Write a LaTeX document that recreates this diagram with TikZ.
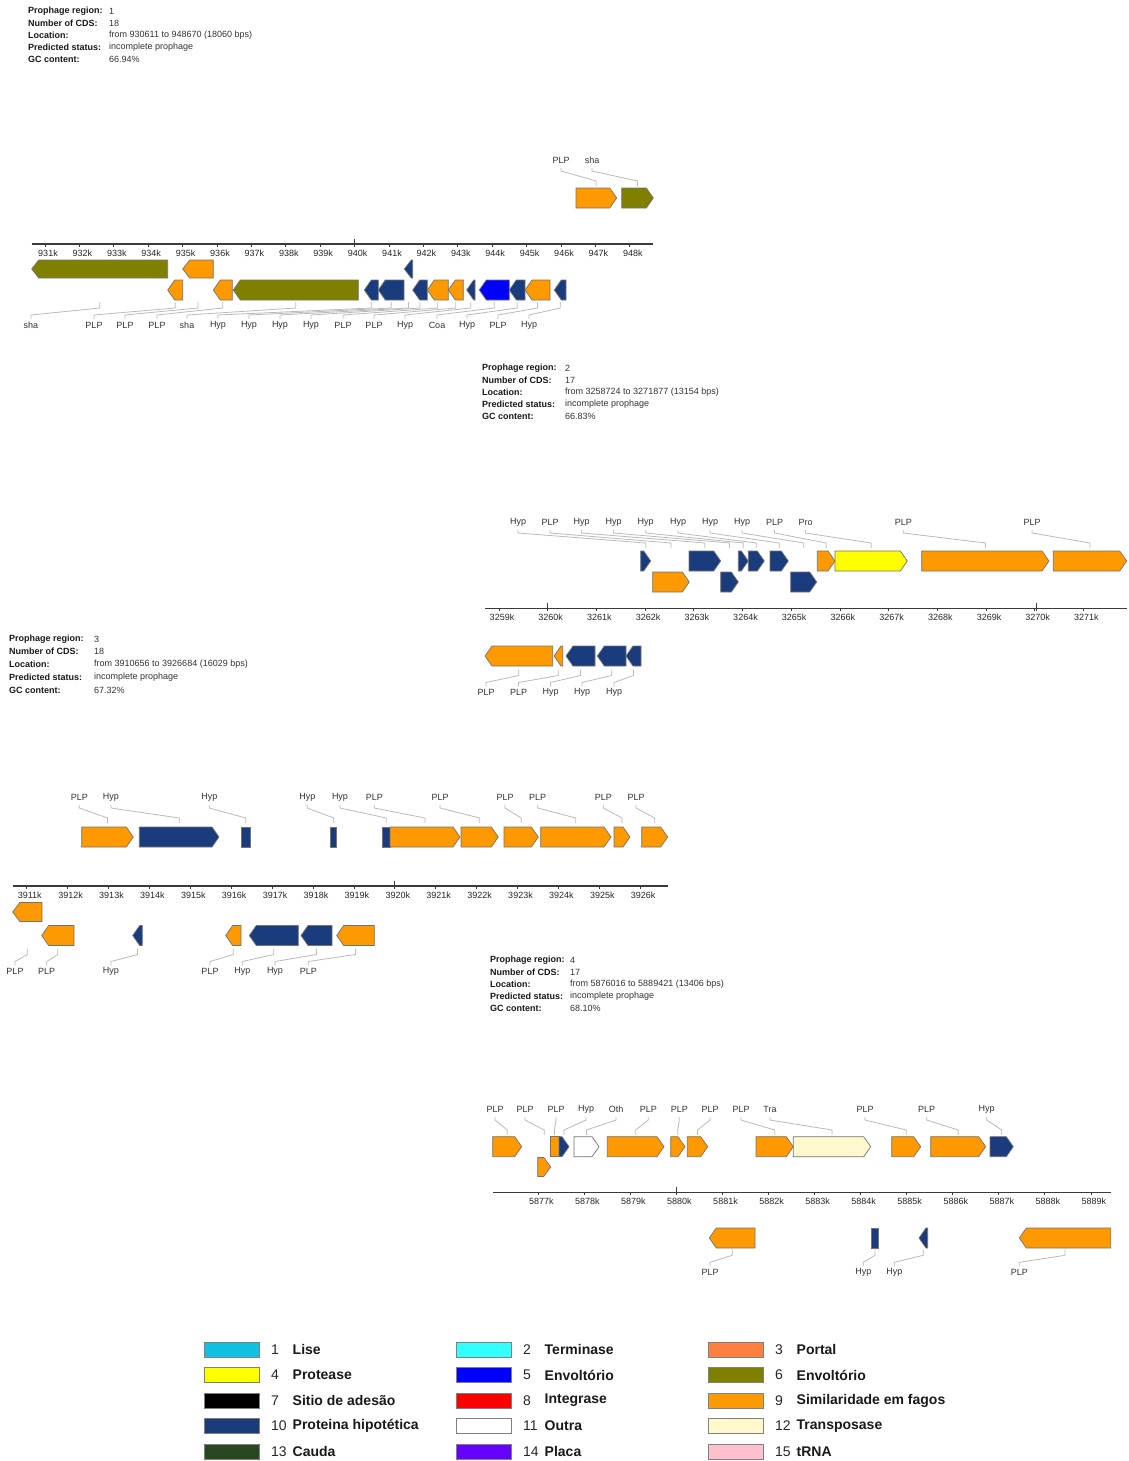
\documentclass[tikz,border=0pt]{standalone}
\usepackage{fontspec}
\setmainfont{Liberation Sans}
\usetikzlibrary{calc}
\definecolor{gor}{HTML}{FF9900}
\definecolor{gol}{HTML}{808000}
\definecolor{gdb}{HTML}{1A3C7C}
\definecolor{gbb}{HTML}{0000FF}
\definecolor{gye}{HTML}{FFFF00}
\definecolor{gly}{HTML}{FFF8CC}
\definecolor{lise}{HTML}{10C0E0}
\definecolor{term}{HTML}{33FFFF}
\definecolor{port}{HTML}{FF7F40}
\definecolor{integ}{HTML}{FF0000}
\definecolor{cauda}{HTML}{284820}
\definecolor{placa}{HTML}{6600FF}
\definecolor{trna}{HTML}{FFC0CB}
\definecolor{axc}{HTML}{3A3A3A}
\newcounter{lc}
\newcounter{gc}
\newcommand{\labfont}{\fontsize{9}{10.5}\selectfont}
\newcommand{\hdfont}{\fontsize{9}{10.5}\selectfont}
\newcommand{\legfont}{\fontsize{14}{16}\selectfont}
% forward gene: x1 x2 yc half colour
\newcommand{\gf}[5]{%
  \pgfmathsetmacro{\gtipl}{min(7,#2-#1)}%
  \pgfmathsetmacro{\gbasex}{#2-\gtipl}%
  \draw[gene,fill=#5] (#1,#3-#4) -- (\gbasex,#3-#4) -- (#2,#3) -- (\gbasex,#3+#4) -- (#1,#3+#4) -- cycle;}
% reverse gene
\newcommand{\gr}[5]{%
  \pgfmathsetmacro{\gtipl}{min(7,#2-#1)}%
  \pgfmathsetmacro{\gbasex}{#1+\gtipl}%
  \draw[gene,fill=#5] (#2,#3-#4) -- (\gbasex,#3-#4) -- (#1,#3) -- (\gbasex,#3+#4) -- (#2,#3+#4) -- cycle;}
% rectangle gene
\newcommand{\gq}[5]{%
  \draw[gene,fill=#5] (#1,#3-#4) rectangle (#2,#3+#4);}
% label above: lx L gx text
\newcommand{\uplab}[4]{%
  \stepcounter{lc}%
  \node[lab] (l\arabic{lc}) at (#1,#2) {#4};
  \coordinate (g\arabic{lc}) at (#3,#2+21);
  \draw[leader] (l\arabic{lc}.center) ++(0,8) -- ++(0,3) -- (g\arabic{lc}) -- ++(0,5);}
% label below
\newcommand{\lolab}[4]{%
  \stepcounter{lc}%
  \node[lab] (l\arabic{lc}) at (#1,#2) {#4};
  \coordinate (g\arabic{lc}) at (#3,#2-23);
  \draw[leader] (g\arabic{lc}) -- ++(0,6) -- ($(l\arabic{lc}.center)+(0,-10)$) -- ++(0,4);}
% axis: x1 x2 y firstk lastk xfirst step
\newcommand{\axisrow}[7]{%
  \draw[axisline] (#1,#3) -- (#2,#3);
  \foreach \k in {#4,...,#5}{%
    \pgfmathsetmacro{\tkx}{#6+#7*(\k-#4)}%
    \draw[tickline] (\tkx,#3) -- (\tkx,#3+3);
    \node[ticklab] (t\k) at (\tkx+3,#3+9) {\k k};
  }}
% header line: name xkey xval y key value
\newcommand{\hdr}[6]{%
  \node[hkey] (#1k) at (#2,#4) {#5};
  \node[hval] (#1v) at (#3,#4) {#6};}
% legend entry: xbox ycenter colour number text
\newcommand{\leg}[5]{%
  \stepcounter{gc}%
  \node[legbox,fill=#3] (b\arabic{gc}) at (#1+27.5,#2) {};
  \node[legnum] (n\arabic{gc}) at (#1+67,#2) {#4};
  \node[legtxt] (x\arabic{gc}) at (#1+88.5,#2) {#5};}
\begin{document}
\begin{tikzpicture}[x=1pt,y=-1pt,
  gene/.style={draw=black!55,line width=0.7pt},
  leader/.style={draw=black!27,line width=0.8pt},
  lab/.style={font=\labfont,text=black!80,inner sep=0pt},
  ticklab/.style={font=\labfont,text=black!85,inner sep=0pt},
  axisline/.style={draw=axc,line width=1.6pt},
  tickline/.style={draw=axc,line width=0.8pt},
  hkey/.style={font=\hdfont\bfseries,anchor=west,inner sep=0pt,text=black!90},
  hval/.style={font=\hdfont,anchor=west,inner sep=0pt,text=black!80},
  legbox/.style={draw=black!50,line width=0.6pt,minimum width=55pt,minimum height=15pt,inner sep=0pt},
  legnum/.style={font=\legfont,anchor=west,inner sep=0pt,text=black!85},
  legtxt/.style={font=\legfont\bfseries,anchor=west,inner sep=0pt,text=black!90}]
\fill[white] (0,0) rectangle (1129,1461);
\useasboundingbox (0,0) rectangle (1129,1461);

%================ REGION 1 ================
\hdr{a1}{28}{109}{11}{Prophage region:}{1}
\hdr{a2}{28}{109}{23}{Number of CDS:}{18}
\hdr{a3}{28}{109}{35}{Location:}{from 930611 to 948670 (18060 bps)}
\hdr{a4}{28}{109}{47}{Predicted status:}{incomplete prophage}
\hdr{a5}{28}{109}{59}{GC content:}{66.94\%}

\axisrow{31.7}{653.3}{244}{931}{948}{45}{34.4}
\draw[tickline] (354.6,239) -- (354.6,247);

\gf{576}{616.7}{198}{10}{gor}
\gf{621.7}{653.3}{198}{10}{gol}
\gr{31.7}{167.7}{269}{9}{gol}
\gr{182.7}{213.3}{269}{9}{gor}
\gr{404.3}{412.7}{269}{9}{gdb}
\gr{167.7}{182.7}{290}{10}{gor}
\gr{213.3}{232.3}{290}{10}{gor}
\gr{233.3}{358.3}{290}{10}{gol}
\gr{364.3}{378.3}{290}{10}{gdb}
\gr{378.3}{404}{290}{10}{gdb}
\gr{412.7}{427.3}{290}{10}{gdb}
\gr{427.3}{448.3}{290}{10}{gor}
\gr{448.3}{463.3}{290}{10}{gor}
\gr{466.7}{475}{290}{10}{gdb}
\gr{479.3}{509.3}{290}{10}{gbb}
\gr{509.3}{525}{290}{10}{gdb}
\gr{525}{550}{290}{10}{gor}
\gr{554.3}{566}{290}{10}{gdb}

\uplab{561}{160}{596.3}{PLP}
\uplab{592}{160}{637.5}{sha}

\lolab{31}{325}{99.7}{sha}
\lolab{94}{325}{175.2}{PLP}
\lolab{125}{325}{198}{PLP}
\lolab{157}{325}{222.8}{PLP}
\lolab{187}{325}{295.8}{sha}
\lolab{218}{325}{371.3}{Hyp}
\lolab{249}{325}{391.2}{Hyp}
\lolab{280}{325}{408.5}{Hyp}
\lolab{311}{325}{420}{Hyp}
\lolab{343}{325}{437.8}{PLP}
\lolab{374}{325}{455.8}{PLP}
\lolab{405}{325}{470.8}{Hyp}
\lolab{437}{325}{494.3}{Coa}
\lolab{467}{325}{517.2}{Hyp}
\lolab{498}{325}{537.5}{PLP}
\lolab{529}{325}{560.2}{Hyp}

%================ REGION 2 ================
\hdr{b1}{482}{565}{368}{Prophage region:}{2}
\hdr{b2}{482}{565}{380}{Number of CDS:}{17}
\hdr{b3}{482}{565}{392}{Location:}{from 3258724 to 3271877 (13154 bps)}
\hdr{b4}{482}{565}{404}{Predicted status:}{incomplete prophage}
\hdr{b5}{482}{565}{416}{GC content:}{66.83\%}

\axisrow{485}{1126.7}{608.3}{3259}{3271}{499}{48.7}
\draw[tickline] (547.7,603.3) -- (547.7,611.3);
\draw[tickline] (1036,603.3) -- (1036,611.3);

\gf{640.7}{650.7}{561}{10}{gdb}
\gf{689}{720.7}{561}{10}{gdb}
\gf{738.3}{748.3}{561}{10}{gdb}
\gf{748.3}{764.3}{561}{10}{gdb}
\gf{770}{788.3}{561}{10}{gdb}
\gf{817.3}{835}{561}{10}{gor}
\gf{835}{907.3}{561}{10}{gye}
\gf{921.7}{1049}{561}{10}{gor}
\gf{1053.3}{1126.7}{561}{10}{gor}
\gf{652.7}{689.3}{582}{10}{gor}
\gf{720.7}{738.3}{582}{10}{gdb}
\gf{790.7}{816.7}{582}{10}{gdb}
\gr{485}{552.7}{656}{10}{gor}
\gr{554}{562.7}{656}{10}{gor}
\gr{566}{595}{656}{10}{gdb}
\gr{597.3}{626}{656}{10}{gdb}
\gr{626}{641}{656}{10}{gdb}

\uplab{518}{522}{645.7}{Hyp}
\uplab{550}{522}{671}{PLP}
\uplab{581.5}{522}{704.8}{Hyp}
\uplab{613.5}{522}{729.5}{Hyp}
\uplab{645.7}{522}{743.3}{Hyp}
\uplab{678}{522}{756.3}{Hyp}
\uplab{710}{522}{779.2}{Hyp}
\uplab{742}{522}{803.7}{Hyp}
\uplab{774.5}{522}{826.2}{PLP}
\uplab{805.5}{522}{871.2}{Pro}
\uplab{903.3}{522}{985.4}{PLP}
\uplab{1032}{522}{1090}{PLP}

\lolab{486}{692.5}{518.8}{PLP}
\lolab{518.5}{692.5}{558.3}{PLP}
\lolab{550.5}{692.5}{580.5}{Hyp}
\lolab{582}{692.5}{611.7}{Hyp}
\lolab{614}{692.5}{633.5}{Hyp}

%================ REGION 3 ================
\hdr{c1}{9}{94}{639}{Prophage region:}{3}
\hdr{c2}{9}{94}{651.75}{Number of CDS:}{18}
\hdr{c3}{9}{94}{664.5}{Location:}{from 3910656 to 3926684 (16029 bps)}
\hdr{c4}{9}{94}{677.25}{Predicted status:}{incomplete prophage}
\hdr{c5}{9}{94}{690}{GC content:}{67.32\%}

\axisrow{12.7}{668.3}{886}{3911}{3926}{26.7}{40.9}
\draw[tickline] (394.8,881) -- (394.8,889);

\gf{81.7}{133.3}{837}{10}{gor}
\gf{139.3}{219}{837}{10}{gdb}
\gq{241.7}{250}{837}{10}{gdb}
\gq{330.7}{336.7}{837}{10}{gdb}
\gq{382.7}{390}{837}{10}{gdb}
\gf{390}{460}{837}{10}{gor}
\gf{461}{498.3}{837}{10}{gor}
\gf{504}{538.3}{837}{10}{gor}
\gf{540.7}{611}{837}{10}{gor}
\gf{614}{630}{837}{10}{gor}
\gf{641.7}{667.7}{837}{10}{gor}
\gr{12.7}{42}{912}{9.5}{gor}
\gr{41.7}{74}{935.5}{10}{gor}
\gr{132.7}{142.3}{935.5}{10}{gdb}
\gr{225.7}{241}{935.5}{10}{gor}
\gr{249.3}{298.3}{935.5}{10}{gdb}
\gr{301}{332}{935.5}{10}{gdb}
\gr{336.7}{374.3}{935.5}{10}{gor}

\uplab{79.3}{797}{107.5}{PLP}
\uplab{111}{797}{179.2}{Hyp}
\uplab{209.3}{797}{245.8}{Hyp}
\uplab{307.3}{797}{333.7}{Hyp}
\uplab{340}{797}{386.3}{Hyp}
\uplab{374.3}{797}{425}{PLP}
\uplab{440}{797}{479.7}{PLP}
\uplab{505}{797}{521.2}{PLP}
\uplab{537.7}{797}{575.8}{PLP}
\uplab{603.3}{797}{622}{PLP}
\uplab{636}{797}{654.7}{PLP}

\lolab{15}{971.5}{27.3}{PLP}
\lolab{46.7}{971.5}{57.8}{PLP}
\lolab{111}{971.5}{137.5}{Hyp}
\lolab{210}{971.5}{233.3}{PLP}
\lolab{242.3}{971.5}{273.8}{Hyp}
\lolab{275}{971.5}{316.5}{Hyp}
\lolab{308.3}{971.5}{355.5}{PLP}

%================ REGION 4 ================
\hdr{d1}{490}{570}{960}{Prophage region:}{4}
\hdr{d2}{490}{570}{972}{Number of CDS:}{17}
\hdr{d3}{490}{570}{984}{Location:}{from 5876016 to 5889421 (13406 bps)}
\hdr{d4}{490}{570}{996}{Predicted status:}{incomplete prophage}
\hdr{d5}{490}{570}{1008}{GC content:}{68.10\%}

\axisrow{492.7}{1111}{1192.3}{5877}{5889}{538.3}{46.05}
\draw[tickline] (676.45,1187.3) -- (676.45,1195.3);

\gf{492.7}{521.7}{1146.7}{10}{gor}
\gq{550}{559}{1146.7}{10}{gor}
\gf{559}{569}{1146.7}{10}{gdb}
\gf{574}{599}{1146.7}{10}{white}
\gf{607.3}{664}{1146.7}{10}{gor}
\gf{670.7}{685}{1146.7}{10}{gor}
\gf{687.3}{707.7}{1146.7}{10}{gor}
\gf{756}{793.3}{1146.7}{10}{gor}
\gf{793.3}{870.7}{1146.7}{10}{gly}
\gf{891.7}{920.7}{1146.7}{10}{gor}
\gf{930.7}{985.7}{1146.7}{10}{gor}
\gf{990}{1013.3}{1146.7}{10}{gdb}
\gf{537.7}{550.7}{1167}{9.5}{gor}
\gr{709.3}{755}{1238}{10}{gor}
\gq{871.7}{878.3}{1238}{10}{gdb}
\gr{919}{927.7}{1238}{10}{gdb}
\gr{1019.3}{1110.7}{1238}{10}{gor}

\uplab{495}{1109}{507.2}{PLP}
\uplab{525}{1109}{544.2}{PLP}
\uplab{556}{1109}{554.5}{PLP}
\uplab{586}{1109}{564}{Hyp}
\uplab{616}{1109}{586.5}{Oth}
\uplab{648.3}{1109}{635.7}{PLP}
\uplab{679.3}{1109}{677.8}{PLP}
\uplab{710}{1109}{697.5}{PLP}
\uplab{741}{1109}{774.7}{PLP}
\uplab{770}{1109}{832}{Tra}
\uplab{865}{1109}{906.2}{PLP}
\uplab{926.7}{1109}{958.2}{PLP}
\uplab{986.7}{1109}{1001.7}{Hyp}

\lolab{710}{1272.3}{732.2}{PLP}
\lolab{863.3}{1272.3}{875}{Hyp}
\lolab{894.3}{1272.3}{923.3}{Hyp}
\lolab{1019.3}{1272.3}{1065}{PLP}

%================ LEGEND ================
\leg{204}{1349.5}{lise}{1}{Lise}
\leg{204}{1375}{gye}{4}{Protease}
\leg{204}{1400.5}{black}{7}{Sitio de adesão}
\leg{204}{1426}{gdb}{10}{Proteina hipotética}
\leg{204}{1451.5}{cauda}{13}{Cauda}
\leg{456}{1349.5}{term}{2}{Terminase}
\leg{456}{1375}{gbb}{5}{Envoltório}
\leg{456}{1400.5}{integ}{8}{Integrase}
\leg{456}{1426}{white}{11}{Outra}
\leg{456}{1451.5}{placa}{14}{Placa}
\leg{708}{1349.5}{port}{3}{Portal}
\leg{708}{1375}{gol}{6}{Envoltório}
\leg{708}{1400.5}{gor}{9}{Similaridade em fagos}
\leg{708}{1426}{gly}{12}{Transposase}
\leg{708}{1451.5}{trna}{15}{tRNA}
\end{tikzpicture}
\end{document}
